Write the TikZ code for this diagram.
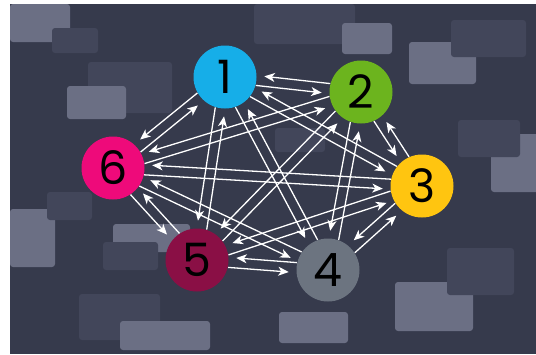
\documentclass[tikz,border=0pt]{standalone}
\usepackage{fontspec}
\setmainfont{Poppins}
\usetikzlibrary{arrows.meta,calc}

\definecolor{bgdark}{HTML}{363A4C}
\definecolor{boxmid}{HTML}{42465A}
\definecolor{boxlight}{HTML}{6B6F84}
\definecolor{cblue}{HTML}{16AEE8}
\definecolor{cgreen}{HTML}{6CB41E}
\definecolor{cyellow}{HTML}{FFC510}
\definecolor{cgray}{HTML}{6C7480}
\definecolor{cplum}{HTML}{8A0F45}
\definecolor{cpink}{HTML}{EE0A7A}

\tikzset{
  lightbox/.style={fill=boxlight, rounded corners=3pt},
  midbox/.style={fill=boxmid, rounded corners=3pt},
  vertex/.style={circle, minimum size=63pt, inner sep=0pt, text=black,
    font=\fontsize{46}{46}\selectfont},
  link/.style={white, line width=1.3pt,
    -{Stealth[length=10.5pt, width=9pt, inset=3pt]},
    shorten <=31.5pt, shorten >=39pt},
}

\begin{document}
\begin{tikzpicture}[x=1pt, y=-1pt]
\useasboundingbox (0,0) rectangle (536,354);
\fill[white] (0,0) rectangle (536,354);
\fill[bgdark] (10,4) rectangle (536,354);

% background tiles
\fill[lightbox] (10,4) rectangle (70,42);
\fill[midbox] (52,28) rectangle (98,53);
\fill[midbox] (88,62) rectangle (172,113);
\fill[lightbox] (67,86) rectangle (126,119);
\fill[midbox] (254,4) rectangle (355,44);
\fill[lightbox] (342,23) rectangle (392,54);
\fill[lightbox] (409,42) rectangle (476,84);
\fill[midbox] (451,20) rectangle (526,57);
\fill[lightbox] (491,134) rectangle (545,192);
\fill[midbox] (458,120) rectangle (520,157);
\fill[midbox] (275,128) rectangle (325,152);
\fill[lightbox] (10,209) rectangle (55,267);
\fill[midbox] (47,192) rectangle (92,220);
\fill[lightbox] (113,224) rectangle (190,252);
\fill[midbox] (103,242) rectangle (158,270);
\fill[midbox] (79,294) rectangle (160,340);
\fill[lightbox] (120,321) rectangle (210,350);
\fill[lightbox] (279,312) rectangle (348,343);
\fill[lightbox] (395,282) rectangle (473,331);
\fill[midbox] (447,248) rectangle (514,295);

% the six vertices
\node[vertex, fill=cblue]   (n1) at (225,77)  {1};
\node[vertex, fill=cgreen]  (n2) at (361,92)  {2};
\node[vertex, fill=cyellow] (n3) at (422,186) {3};
\node[vertex, fill=cgray]   (n4) at (328,270) {4};
\node[vertex, fill=cplum]   (n5) at (197,260) {5};
\node[vertex, fill=cpink]   (n6) at (113,168) {6};

% every pair joined by two opposite arrows
\foreach \a/\b in {n1/n2,n1/n3,n1/n4,n1/n5,n1/n6,
                   n2/n3,n2/n4,n2/n5,n2/n6,
                   n3/n4,n3/n5,n3/n6,
                   n4/n5,n4/n6,
                   n5/n6} {
  \draw[link] ($(\a)!5pt!-90:(\b)$) -- ($(\b)!5pt!90:(\a)$);
  \draw[link] ($(\b)!5pt!-90:(\a)$) -- ($(\a)!5pt!90:(\b)$);
}
\end{tikzpicture}
\end{document}
